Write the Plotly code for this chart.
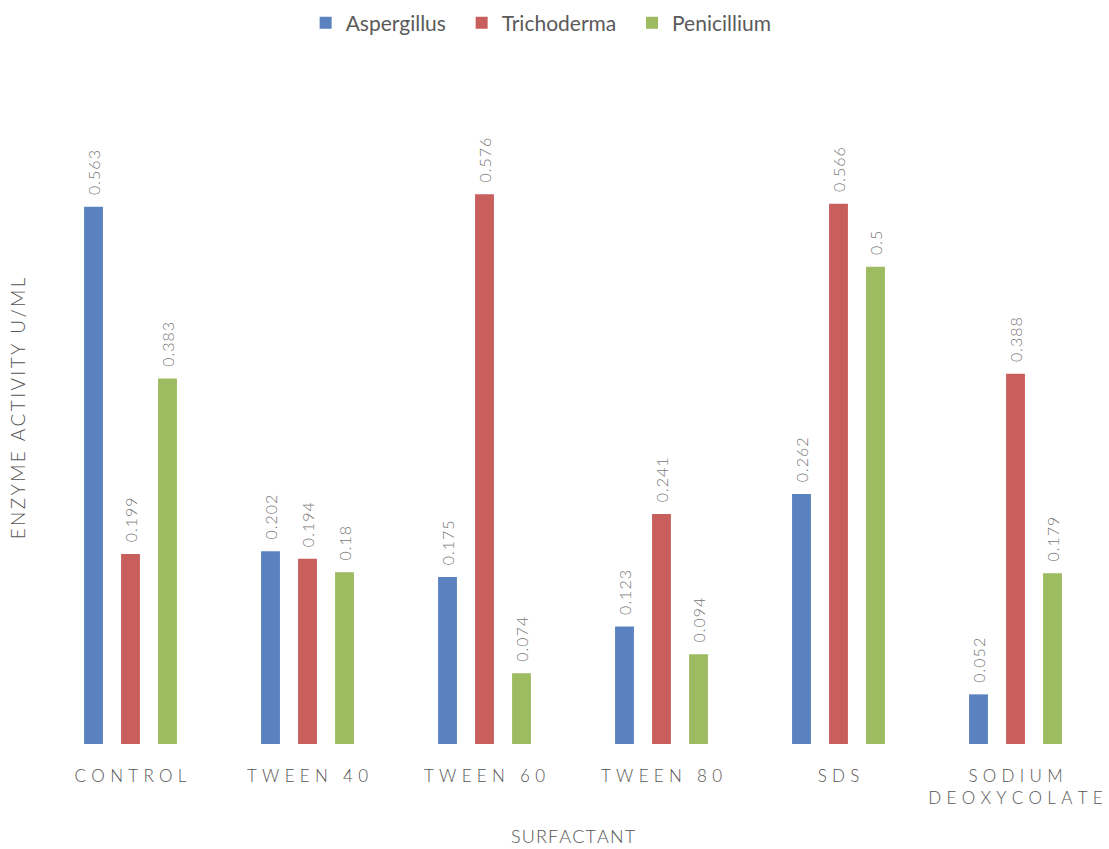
import plotly.graph_objects as go

categories = ["CONTROL", "TWEEN 40", "TWEEN 60", "TWEEN 80", "SDS", "SODIUM DEOXYCOLATE"]
tick_labels = ["CONTROL", "TWEEN 40", "TWEEN 60", "TWEEN 80", "SDS", "SODIUM<br>DEOXYCOLATE"]

aspergillus = [0.563, 0.202, 0.175, 0.123, 0.262, 0.052]
trichoderma = [0.199, 0.194, 0.576, 0.241, 0.566, 0.388]
penicillium = [0.383, 0.18, 0.074, 0.094, 0.5, 0.179]

series = [
    ("Aspergillus", aspergillus, "#5a82bf"),
    ("Trichoderma", trichoderma, "#c95f5c"),
    ("Penicillium", penicillium, "#9dbb61"),
]

GAP = "\u2005\u200a"


def spaced(label, gap=GAP):
    # widen the letter spacing of a label
    return "<br>".join(gap.join(word) for word in label.split("<br>"))


fig = go.Figure()
for i, (name, values, color) in enumerate(series):
    # extra no-break spaces separate the legend entries
    legend_name = name + ("\u00a0\u00a0" if i < len(series) - 1 else "")
    fig.add_trace(go.Bar(
        name=legend_name,
        x=categories,
        y=values,
        marker=dict(color=color, line=dict(width=0)),
        # leading no-break spaces keep the label clear of the bar top
        text=["\u00a0\u00a0" + spaced(str(v), "\u200a") for v in values],
        textposition="outside",
        textangle=-90,
        constraintext="none",
        textfont=dict(family="Lato", size=16, color="#777777", weight=300),
        cliponaxis=False,
    ))

fig.update_layout(
    width=1109,
    height=849,
    barmode="group",
    bargap=0.373,
    bargroupgap=0.49,
    plot_bgcolor="white",
    paper_bgcolor="white",
    margin=dict(l=42, r=5, t=73, b=105),
    font=dict(family="Lato", color="#555555"),
    showlegend=True,
    legend=dict(
        orientation="h",
        x=0.47, xanchor="center",
        y=0.997, yanchor="top", yref="container",
        font=dict(family="Lato", size=21, color="#5a5a5a"),
        itemwidth=30,
        traceorder="normal",
    ),
    xaxis=dict(
        tickmode="array",
        tickvals=categories,
        ticktext=[spaced(t) for t in tick_labels],
        tickfont=dict(family="Lato", size=17, color="#555555", weight=300),
        ticklabelstandoff=20,
        showgrid=False,
        showline=False,
        ticks="",
        title=dict(text=spaced("SURFACTANT", "\u200a"),
                   font=dict(family="Lato", size=18, color="#555555", weight=300), standoff=23),
    ),
    yaxis=dict(
        range=[0, 0.703],
        showgrid=False,
        showline=False,
        showticklabels=False,
        zeroline=False,
        ticks="",
        title=dict(text=spaced("ENZYME ACTIVITY U/ML", "\u2009"),
                   font=dict(family="Lato", size=19, color="#555555", weight=300), standoff=10),
    ),
)

fig.write_html("out.html")
